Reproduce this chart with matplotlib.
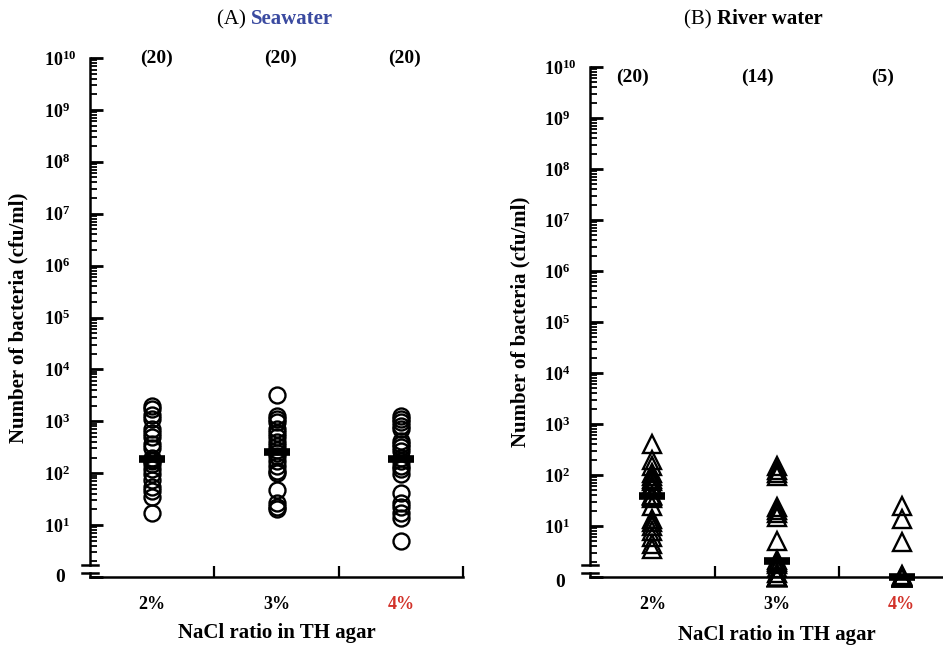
import numpy as np
import matplotlib
matplotlib.use('Agg')
import matplotlib.pyplot as plt
from matplotlib.ticker import FixedLocator, FixedFormatter, NullFormatter

plt.rcParams['font.family'] = ['Liberation Serif', 'DejaVu Serif']
plt.rcParams['mathtext.fontset'] = 'custom'
plt.rcParams['mathtext.rm'] = 'Liberation Serif'
plt.rcParams['mathtext.bf'] = 'Liberation Serif:bold'
plt.rcParams['mathtext.it'] = 'Liberation Serif:italic'

# ---------------- data ----------------
categories = ['2%', '3%', '4%']
category_colors = ['black', 'black', '#d2322a']

# (A) Seawater, cfu/ml
sea_2 = [2000, 1700, 1350, 1100, 700, 600, 500, 370, 300, 200, 175, 180, 150, 120, 95, 75, 55, 45, 35, 17]
sea_3 = [3200, 1250, 1100, 950, 700, 600, 500, 400, 330, 280, 240, 210, 170, 140, 110, 100, 48, 27, 22, 20]
sea_4 = [1250, 1100, 950, 800, 700, 420, 360, 320, 270, 200, 175, 140, 120, 95, 42, 27, 22, 17, 14, 5]
sea_medians = [187, 255, 187]
sea_counts = ['(20)', '(20)', '(20)']

# (B) River water, cfu/ml (0 = not detected)
riv_2 = [400, 200, 150, 110, 95, 85, 75, 65, 55, 40, 38, 36, 25, 14, 12, 10, 8, 6, 4.5, 3.5]
riv_3 = [148, 127, 110, 97, 24, 21, 18, 15, 5, 2.2, 2, 1.8, 1.5, 1.2, 0, 0, 0, 0, 0, 0]
riv_4 = [25, 13.5, 4.8, 1.1, 1.05, 0, 0, 0, 0, 0, 0, 0, 0, 0, 0, 0, 0, 0, 0, 0]
riv_medians = [39, 2.1, 0]
riv_counts = ['(20)', '(14)', '(5)']

decades = list(range(0, 11))
ytick_labels = [''] + [r'$\mathbf{10^{%d}}$' % d for d in decades[1:]]
zero_label = '0'

# ---------------- figure ----------------
W, H = 943, 645
fig = plt.figure(figsize=(W / 100, H / 100), dpi=100)


def px_axes(l, t, r, b):
    return fig.add_axes([l / W, 1 - b / H, (r - l) / W, (b - t) / H])


def draw_panel(ax, width_px, groups, medians, counts, marker, msize, count_y,
               count_dx, ylab_x, xlab_y, zero_dy):
    ax.set_yscale('log')
    ax.set_ylim(1, 1e10)
    ax.set_xlim(-0.5, 2.5)
    for i, vals in enumerate(groups):
        v = np.asarray(vals, float)
        v = np.where(v <= 0, 1.0, v)
        ax.plot(np.full(len(v), i), v, linestyle='none', marker=marker,
                ms=msize, mfc='none', mec='black', mew=1.7, clip_on=False,
                zorder=3)
    med = np.asarray(medians, float)
    med = np.where(med <= 0, 1.0, med)
    ax.plot(np.arange(len(med)), med, linestyle='none', marker='_', ms=19,
            mew=5.5, color='black', clip_on=False, zorder=4)

    for s in ['top', 'right']:
        ax.spines[s].set_visible(False)
    ax.spines['left'].set_linewidth(1.8)
    ax.spines['bottom'].set_linewidth(1.8)
    ax.spines['left'].set_bounds(10 ** 0.23, 1e10)
    tr = ax.get_yaxis_transform()
    ax.plot([0, 0], [1, 10 ** 0.08], color='black', lw=1.8, transform=tr,
            clip_on=False)
    for yb in (10 ** 0.23, 10 ** 0.08):
        ax.plot([-0.022, 0.022], [yb, yb], color='black', lw=1.8,
                transform=tr, clip_on=False)

    # y ticks
    ax.yaxis.set_major_locator(FixedLocator([10.0 ** d for d in decades]))
    ax.yaxis.set_major_formatter(FixedFormatter(ytick_labels))
    minors = [m * 10.0 ** d for d in decades[:-1] for m in range(2, 10)]
    ax.yaxis.set_minor_locator(FixedLocator(minors))
    ax.yaxis.set_minor_formatter(NullFormatter())
    ax.tick_params(axis='y', which='major', direction='in', length=9,
                   width=2, pad=33, labelsize=13)
    ax.tick_params(axis='y', which='minor', direction='in', length=5,
                   width=1.3)
    for t in ax.get_yticklabels():
        t.set_fontweight('bold')
        t.set_horizontalalignment('left')
    ax.annotate(zero_label, xy=(-30 / width_px, 1), xycoords=tr,
                xytext=(0, zero_dy), textcoords='offset points',
                ha='center', va='center', fontsize=14, fontweight='bold',
                annotation_clip=False)

    # x ticks
    ax.set_xticks(range(len(categories)))
    ax.set_xticklabels(categories, fontweight='bold', fontsize=13)
    for t, c in zip(ax.get_xticklabels(), category_colors):
        t.set_color(c)
    ax.xaxis.set_minor_locator(FixedLocator([0.5, 1.5, 2.5]))
    ax.tick_params(axis='x', which='major', length=0, pad=14)
    ax.tick_params(axis='x', which='minor', direction='in', length=8,
                   width=1.6)

    for i, c in enumerate(counts):
        ax.annotate(c, xy=(i, count_y), xytext=(count_dx, 0),
                    textcoords='offset points', ha='center', va='center',
                    fontsize=14, fontweight='bold', annotation_clip=False)

    ax.set_ylabel('Number of bacteria (cfu/ml)', fontsize=15,
                  fontweight='bold')
    ax.yaxis.set_label_coords(ylab_x, 0.5)
    ax.yaxis.label.set_va('center')
    ax.set_xlabel('NaCl ratio in TH agar', fontsize=15, fontweight='bold')
    ax.xaxis.set_label_coords(0.5, xlab_y)
    ax.xaxis.label.set_va('center')


axA = px_axes(90, 58, 463, 577)
axB = px_axes(590, 67, 964, 577)

draw_panel(axA, 373, [sea_2, sea_3, sea_4], sea_medians, sea_counts, 'o',
           11.5, 1e10, 3, (18 - 90) / 373, (577 - 633) / 519, 0)
draw_panel(axB, 374, [riv_2, riv_3, riv_4], riv_medians, riv_counts, '^',
           12.5, 10 ** 9.8, -14, (520 - 590) / 374, (577 - 635) / 510, -4)

# titles
fig.text(251 / W, 1 - 24 / H, '(A) ', ha='right', va='baseline', fontsize=15)
fig.text(251 / W, 1 - 24 / H, 'Seawater', ha='left', va='baseline',
         fontsize=15, fontweight='bold', color='#3a4aa0')
fig.text(717 / W, 1 - 24 / H, '(B) ', ha='right', va='baseline', fontsize=15)
fig.text(717 / W, 1 - 24 / H, 'River water', ha='left', va='baseline',
         fontsize=15, fontweight='bold', color='black')

fig.savefig('out.png', dpi=100)
